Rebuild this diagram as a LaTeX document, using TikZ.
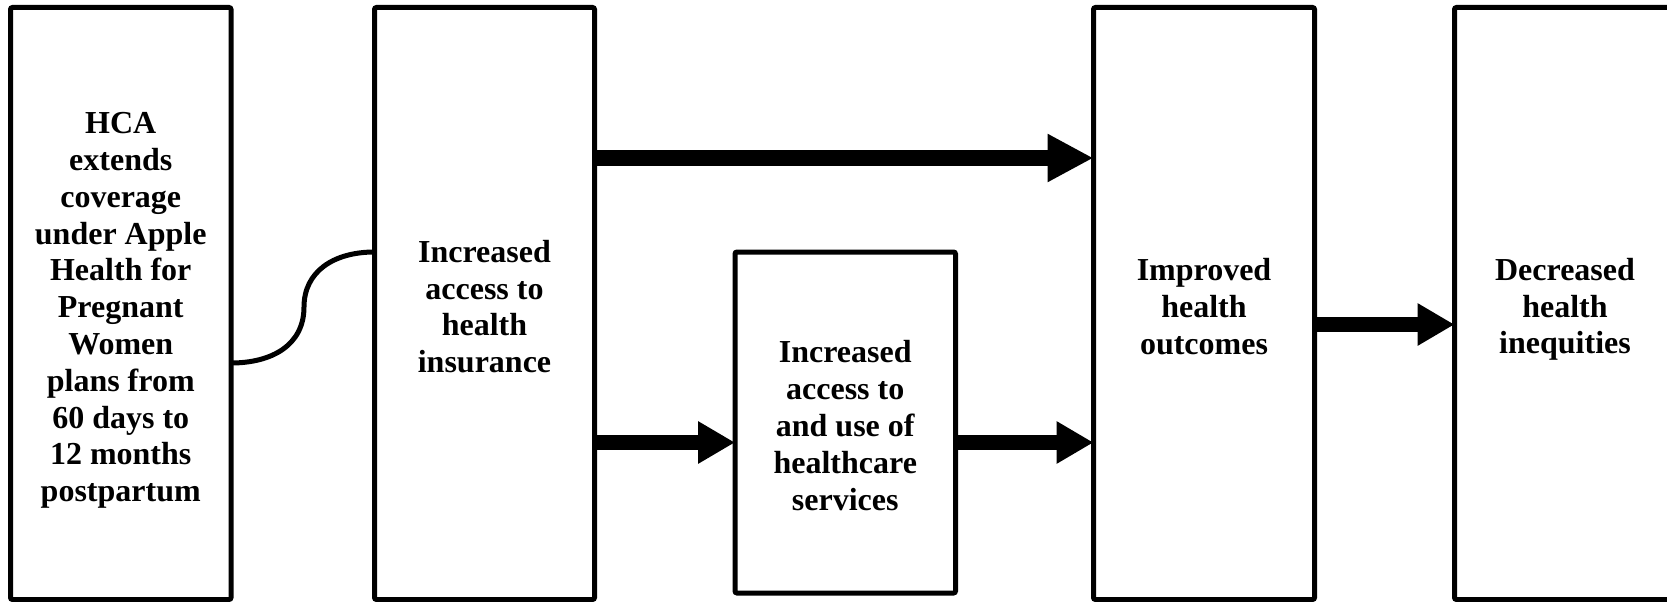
\documentclass[tikz,border=0pt]{standalone}
\usepackage{fontspec}
\setmainfont{Liberation Serif}
\usetikzlibrary{arrows.meta}
\tikzset{
  box/.style={draw=black, line width=5pt, rounded corners=2pt, inner sep=0pt, outer sep=0pt},
  lbl/.style={inner sep=0pt, align=center, font=\bfseries\fontsize{32}{36.8}\selectfont},
  bigarrow/.style={line width=15pt, -{Triangle[length=37pt,width=40pt]}},
  toparrow/.style={line width=16pt, -{Triangle[length=46pt,width=45pt]}},
  conn/.style={line width=5pt}
}
\begin{document}
\begin{tikzpicture}[x=1pt,y=-1pt]
\useasboundingbox (0,0) rectangle (1667,602);
\clip (0,0) rectangle (1667,602);
\node[box, minimum width=220.5pt, minimum height=592pt] (b1) at (120.75,303.5) {};
\node[box, minimum width=220pt, minimum height=592pt] (b2) at (484.5,303.5) {};
\node[box, minimum width=220.5pt, minimum height=341pt] (b3) at (845.25,422.5) {};
\node[box, minimum width=221pt, minimum height=592pt] (b4) at (1204,303.5) {};
\node[box, minimum width=221pt, minimum height=592pt] (b5) at (1565,303.5) {};
\node[lbl, yshift=-7pt] (t1) at (b1.center)
  {HCA\\extends\\coverage\\under Apple\\Health for\\Pregnant\\Women\\plans from\\60 days to\\12 months\\postpartum};
\node[lbl, yshift=-3pt] (t2) at (b2.center) {Increased\\access to\\health\\insurance};
\node[lbl, yshift=-3pt] (t3) at (b3.center) {Increased\\access to\\and use of\\healthcare\\services};
\node[lbl, yshift=-3pt] (t4) at (b4.center) {Improved\\health\\outcomes};
\node[lbl, yshift=-6pt] (t5) at (b5.center) {Decreased\\health\\inequities};
\draw[conn] (b1.east |- 0,363) .. controls (272,363) and (304,345) .. (304,307)
  .. controls (304,272) and (333,252) .. (b2.west |- 0,252);
\draw[toparrow] (b2.east |- 0,158) -- (b4.west |- 0,158);
\draw[bigarrow] (b2.east |- 0,442.5) -- (b3.west |- 0,442.5);
\draw[bigarrow] (b3.east |- 0,442.5) -- (b4.west |- 0,442.5);
\draw[bigarrow] (b4.east |- 0,324.5) -- (b5.west |- 0,324.5);
\end{tikzpicture}
\end{document}
